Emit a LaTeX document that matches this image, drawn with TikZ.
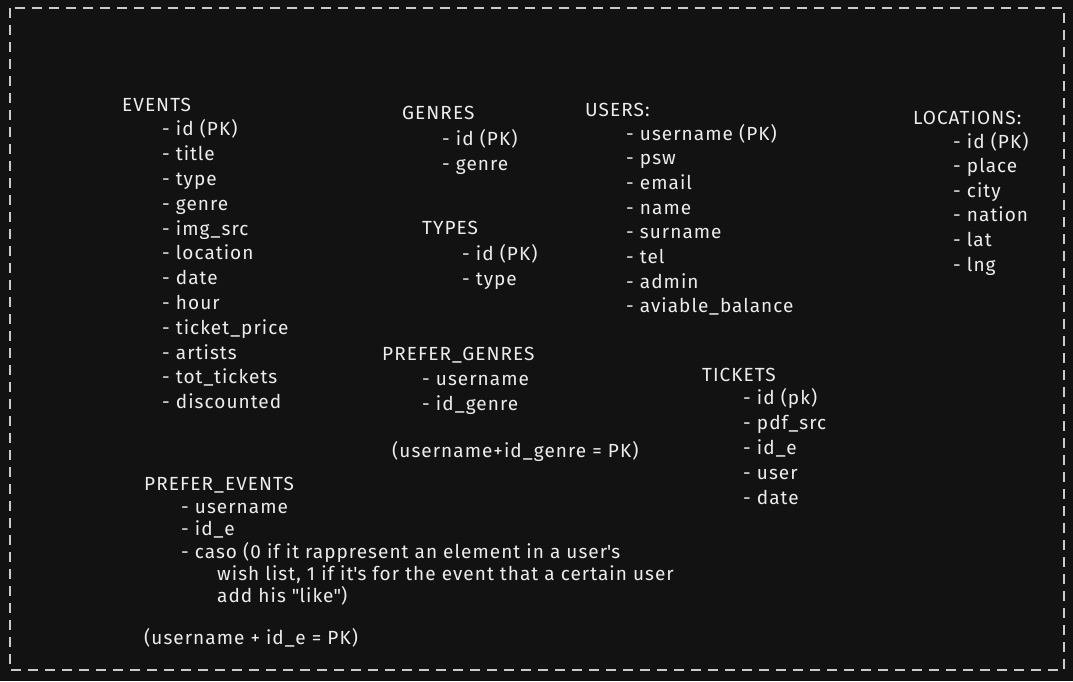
\documentclass[tikz,border=0pt]{standalone}
\usepackage{fontspec}
\setmainfont[LetterSpace=5.5]{Fira Sans}
\definecolor{bgdark}{HTML}{121212}
\definecolor{inkwhite}{HTML}{ECECEC}
\tikzset{
  tabname/.style={anchor=base west, inner sep=0pt, text=inkwhite,
    font=\fontsize{19}{22}\selectfont},
  field/.style={tabname},
  frame/.style={draw=inkwhite!85!bgdark, line width=1.4pt,
    dash pattern=on 10pt off 7pt},
}
\begin{document}
\begin{tikzpicture}[x=1pt, y=-1pt]
  \fill[bgdark] (0,0) rectangle (1073,681);
  \useasboundingbox (0,0) rectangle (1073,681);
  % -- frame
  \draw[frame] (10,8) rectangle (1064,670);
  % EVENTS
  \node[tabname] (events) at (122,111) {EVENTS};
  \foreach \f [count=\i] in {id (PK), title, type, genre, img\_src, location,
      date, hour, ticket\_price, artists, tot\_tickets, discounted}
    \node[field] (events-\i) at (162,{111+24.8*\i}) {- \f};
  % GENRES
  \node[tabname] (genres) at (402,119) {GENRES};
  \node[field] (genres-1) at (442,145) {- id (PK)};
  \node[field] (genres-2) at (442,170) {- genre};
  % TYPES
  \node[tabname] (types) at (422,234) {TYPES};
  \node[field] (types-1) at (462,260) {- id (PK)};
  \node[field] (types-2) at (462,285) {- type};
  % PREFER_GENRES
  \node[tabname] (prefgen) at (382,360) {PREFER\_GENRES};
  \node[field] (prefgen-1) at (422,385) {- username};
  \node[field] (prefgen-2) at (422,410) {- id\_genre};
  \node[field] (prefgen-key) at (392,457) {(username+id\_genre = PK)};
  % USERS
  \node[tabname] (users) at (585,116) {USERS:};
  \foreach \f [count=\i] in {username (PK), psw, email, name, surname, tel,
      admin, aviable\_balance}
    \node[field] (users-\i) at (626,{115.3+24.7*\i}) {- \f};
  % LOCATIONS
  \node[tabname] (locations) at (913,124) {LOCATIONS:};
  \foreach \f [count=\i] in {id (PK), place, city, nation, lat, lng}
    \node[field] (locations-\i) at (953,{123.4+24.6*\i}) {- \f};
  % TICKETS
  \node[tabname] (tickets) at (702,381) {TICKETS};
  \foreach \f [count=\i] in {id (pk), pdf\_src, id\_e, user, date}
    \node[field] (tickets-\i) at (743,{379+25*\i}) {- \f};
  % PREFER_EVENTS
  \node[tabname] (prefev) at (144,490) {PREFER\_EVENTS};
  \node[field] (prefev-1) at (181,513) {- username};
  \node[field] (prefev-2) at (181,535) {- id\_e};
  \node[field] (prefev-3) at (181,558) {- caso (0 if it rappresent an element in a user\textquotesingle s};
  \node[field] (prefev-3b) at (217,580) {wish list, 1 if it\textquotesingle s for the event that a certain user};
  \node[field] (prefev-3c) at (217,602) {add his \textquotedbl like\textquotedbl )};
  \node[field] (prefev-key) at (144,644) {(username + id\_e = PK)};
\end{tikzpicture}
\end{document}
